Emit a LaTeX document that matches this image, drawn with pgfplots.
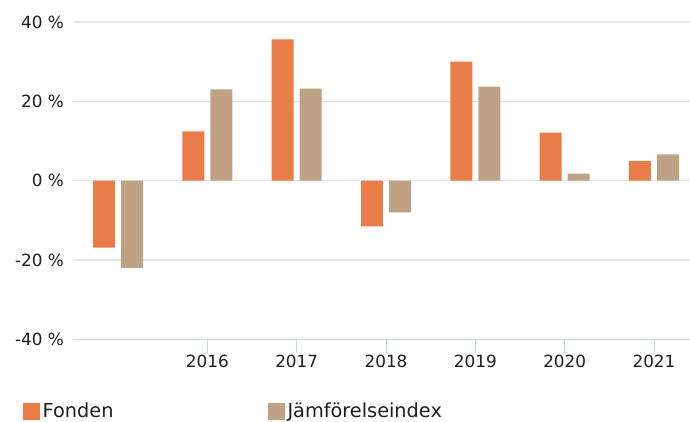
\documentclass[border=0pt]{standalone}
\usepackage{fontspec}
\setmainfont{DejaVu Sans}
\usepackage{pgfplots}
\pgfplotsset{compat=1.18}
\definecolor{fonden}{RGB}{233,125,74}
\definecolor{jamf}{RGB}{191,161,133}
\definecolor{gridc}{RGB}{230,230,230}
\definecolor{axisc}{RGB}{204,214,235}
\definecolor{txt}{RGB}{30,30,30}
\begin{document}
\begin{tikzpicture}
\begin{axis}[
  scale only axis,
  width=617pt, height=317.3pt,
  xmin=-0.504, xmax=6.403,
  ymin=-40, ymax=40,
  ytick={-40,-20,0,20,40},
  xtick={1,2,3,4,5,6},
  xticklabels={2016,2017,2018,2019,2020,2021},
  /pgf/number format/assume math mode=true,
  yticklabel={\pgfmathprintnumber{\tick} \%},
  axis x line=bottom,
  axis y line=left,
  y axis line style={draw=none},
  x axis line style={color=axisc, line width=1pt, -},
  ytick style={draw=none},
  xtick style={color=axisc, line width=1pt},
  tick align=outside,
  major tick length=14pt,
  ymajorgrids,
  grid style={color=gridc, line width=1.5pt},
  tick label style={font=\fontsize{16.8}{20}\selectfont, text=txt},
  yticklabel style={inner sep=0pt, xshift=5pt},
  xticklabel style={inner sep=0pt, yshift=-2pt},
  legend columns=2,
  legend style={
    at={(rel axis cs:0,0)}, anchor=west, xshift=-50.3pt, yshift=-72pt,
    draw=none, fill=none, inner sep=0pt, outer sep=0pt,
    font=\fontsize{19.3}{22}\selectfont, text=txt,
    nodes={inner sep=0pt},
    /tikz/every odd column/.append style={column sep=3pt},
    /tikz/every even column/.append style={column sep=154pt},
  },
  legend cell align=left,
]
\addplot[ybar, fill=fonden, draw=none, bar width=0.246, bar shift=-0.157,
  legend image code/.code={\fill[fonden] (0pt,-8.5pt) rectangle (17pt,8.5pt);}]
  coordinates {(0,-16.9) (1,12.4) (2,35.6) (3,-11.5) (4,30.0) (5,12.1) (6,5.0)};
\addlegendentry{Fonden}
\addplot[ybar, fill=jamf, draw=none, bar width=0.246, bar shift=0.157,
  legend image code/.code={\fill[jamf] (0pt,-8.5pt) rectangle (17pt,8.5pt);}]
  coordinates {(0,-22.0) (1,23.0) (2,23.2) (3,-8.0) (4,23.7) (5,1.8) (6,6.6)};
\addlegendentry{Jämförelseindex}
\end{axis}
\pgfresetboundingbox
\path (current axis.south west) ++(-73pt,-81.7pt) rectangle ++(690pt,421pt);
\end{tikzpicture}
\end{document}
